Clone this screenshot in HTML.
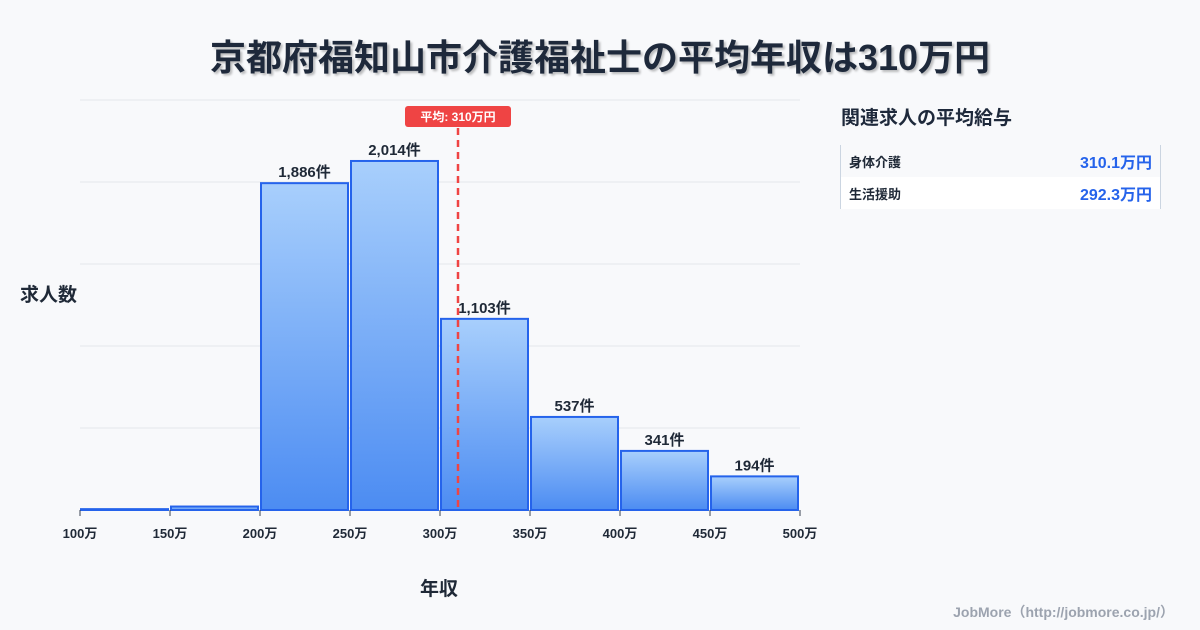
<!DOCTYPE html>
<html><head><meta charset="utf-8"><style>
body{margin:0;width:1200px;height:630px;background:#f8f9fb;font-family:"Liberation Sans","Noto Sans CJK JP",sans-serif;position:relative;overflow:hidden;color:#1f2937}
.abs{position:absolute}
</style></head><body>
<div class="abs" style="left:0;width:1200px;top:29px;text-align:center;font-size:36px;font-weight:bold;color:#1e293b;text-shadow:2px 2px 2px rgba(0,0,0,0.25)">京都府福知山市介護福祉士の平均年収は310万円</div>
<svg class="abs" style="left:0;top:0" width="1200" height="630">
<defs><linearGradient id="g" x1="0" y1="0" x2="0" y2="1"><stop offset="0" stop-color="#a8cffc"/><stop offset="1" stop-color="#4c8cf2"/></linearGradient></defs>
<g id="grid"></g><g id="bars"></g><g id="axis"></g>
</svg>
<div class="abs" style="left:20px;top:280px;font-size:19px;font-weight:bold">求人数</div>
<div class="abs" style="left:420px;top:574px;font-size:19px;font-weight:bold">年収</div>
<div class="abs" style="left:841px;top:103px;font-size:19px;font-weight:bold;color:#1e293b">関連求人の平均給与</div>
<div class="abs" style="left:840px;top:145px;width:319px;border-left:1px solid #cbd5e1;border-right:1px solid #cbd5e1">
<div style="height:32px;display:flex;justify-content:space-between;align-items:center;padding:0 8px;background:#f8f9fb"><span style="font-size:13px;font-weight:bold">身体介護</span><span style="font-size:16px;font-weight:bold;color:#2563eb">310.1万円</span></div>
<div style="height:32px;display:flex;justify-content:space-between;align-items:center;padding:0 8px;background:#fff"><span style="font-size:13px;font-weight:bold">生活援助</span><span style="font-size:16px;font-weight:bold;color:#2563eb">292.3万円</span></div>
</div>
<div class="abs" style="right:26px;top:602px;font-size:14px;font-weight:bold;color:#9ca3af">JobMore（http://jobmore.co.jp/）</div>
<script>
const binStarts=[100,150,200,250,300,350,400,450];
const counts=[5,20,1886,2014,1103,537,341,194];
const labels=["","","1,886件","2,014件","1,103件","537件","341件","194件"];
const ticks=[100,150,200,250,300,350,400,450,500];
const avg=310;
const NS="http://www.w3.org/2000/svg";
const X=v=>80+(v-100)*1.8, Y=v=>510-v*0.1733;
function mk(t,a,p){const e=document.createElementNS(NS,t);for(const k in a)e.setAttribute(k,a[k]);p.appendChild(e);return e;}
const grid=document.getElementById('grid'),bars=document.getElementById('bars'),axis=document.getElementById('axis');
for(let i=0;i<5;i++){const l=mk('line',{x1:80,x2:800,y1:100+i*82,y2:100+i*82,stroke:'#e5e7eb','stroke-width':1},grid);

}
binStarts.forEach((b,i)=>{const x=X(b)+1,w=X(b+50)-X(b)-3,y=Y(counts[i]);
const r=mk('rect',{x:x,y:y,width:w,height:510-y,fill:'url(#g)',stroke:'#2563eb','stroke-width':2},bars);


if(labels[i]){const t=mk('text',{x:x+w/2,y:y-6,'text-anchor':'middle','font-size':15,'font-weight':'bold',fill:'#1f2937'},bars);t.textContent=labels[i];

}});
ticks.forEach(v=>{mk('line',{x1:X(v),x2:X(v),y1:510,y2:516,stroke:'#374151','stroke-width':1},axis);
const t=mk('text',{x:X(v),y:538,'text-anchor':'middle','font-size':13,'font-weight':'bold',fill:'#1f2937'},axis);t.textContent=v+'万';

});
const ax=X(avg);
const al=mk('line',{x1:ax,x2:ax,y1:128,y2:510,stroke:'#ef4444','stroke-width':2.5,'stroke-dasharray':'7,5'},axis);


const ab=mk('rect',{x:ax-53,y:106,width:106,height:21,rx:3,fill:'#ef4444'},axis);


const at=mk('text',{x:ax,y:121,'text-anchor':'middle','font-size':12,'font-weight':'bold',fill:'#fff'},axis);at.textContent='平均: '+avg+'万円';


</script>
</body></html>
